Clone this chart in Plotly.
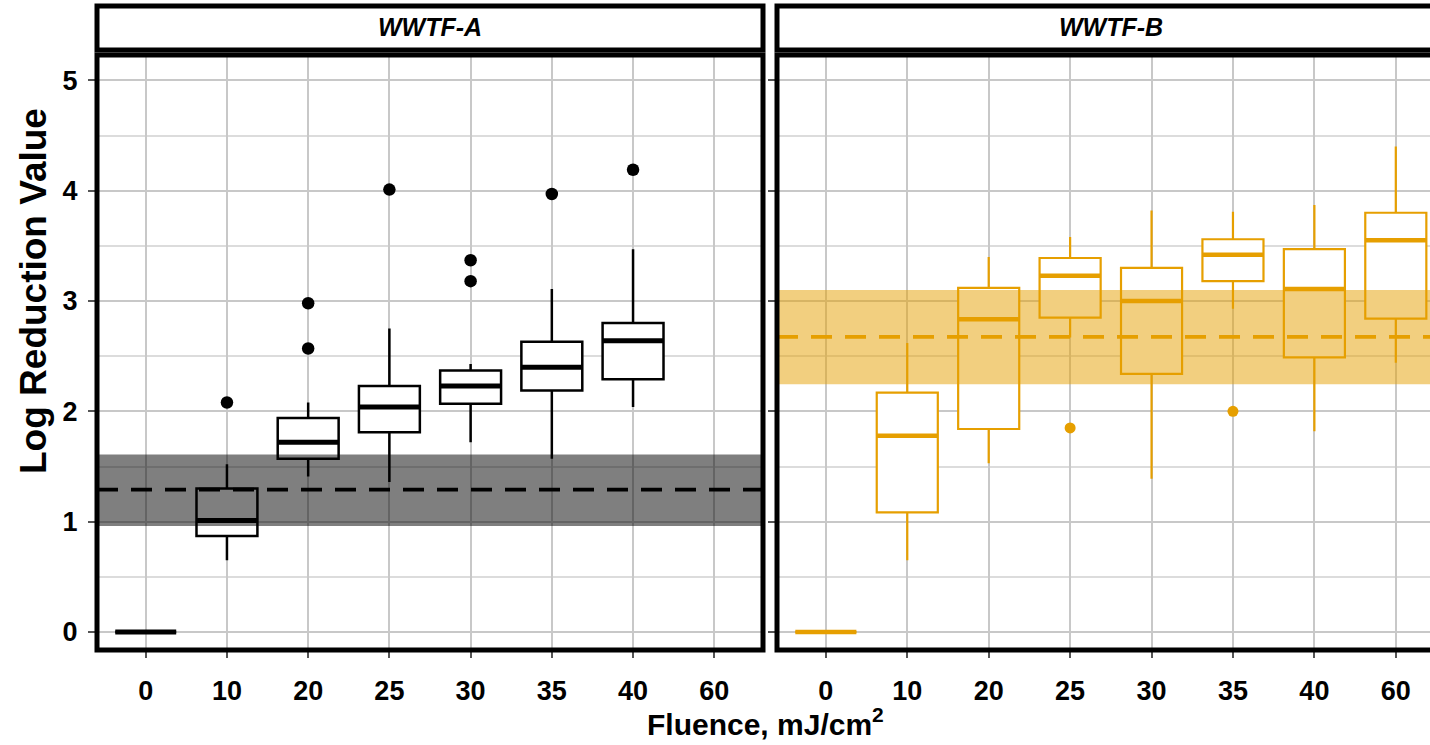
import plotly.graph_objects as go

categories = ["0", "10", "20", "25", "30", "35", "40", "60"]

# WWTF-A box statistics (no 60 mJ/cm2 data)
a_q1 = [0, 0.87, 1.57, 1.81, 2.07, 2.19, 2.29]
a_median = [0, 1.01, 1.72, 2.04, 2.23, 2.40, 2.64]
a_q3 = [0, 1.30, 1.94, 2.23, 2.37, 2.63, 2.80]
a_lower = [0, 0.65, 1.41, 1.36, 1.72, 1.57, 2.04]
a_upper = [0, 1.52, 2.08, 2.75, 2.43, 3.11, 3.47]
a_out_cat = [1, 2, 2, 3, 4, 4, 5, 6]
a_out_val = [2.08, 2.98, 2.57, 4.01, 3.37, 3.18, 3.97, 4.19]

# WWTF-B box statistics
b_q1 = [0, 1.085, 1.84, 2.85, 2.34, 3.18, 2.49, 2.84]
b_median = [0, 1.78, 2.835, 3.23, 3.00, 3.42, 3.11, 3.55]
b_q3 = [0, 2.17, 3.12, 3.39, 3.30, 3.56, 3.47, 3.80]
b_lower = [0, 0.65, 1.53, 2.67, 1.39, 2.93, 1.82, 2.44]
b_upper = [0, 2.62, 3.40, 3.58, 3.82, 3.81, 3.87, 4.40]
b_out_cat = [3, 5]
b_out_val = [1.85, 2.00]

# reference bands (mean and range)
a_band = {"lo": 0.96, "mean": 1.29, "hi": 1.61}
b_band = {"lo": 2.245, "mean": 2.675, "hi": 3.10}

A_XRANGE = [-0.6, 7.6]
B_XRANGE = [-0.6, 7.42]
Y_RANGE = [-0.163, 5.23]

BLACK = "#000000"
ORANGE = "#E69F00"
BOXW = 0.75
FONT = "Liberation Sans, Arial, sans-serif"

fig = go.Figure()


def add_facet(xa, ya, xr, band, band_fill, q1, med, q3, lo, hi, oc, ov, color, lw, mlw, msize):
    # shaded band
    fig.add_trace(go.Scatter(x=[xr[0], xr[1], xr[1], xr[0], xr[0]],
                             y=[band["lo"], band["lo"], band["hi"], band["hi"], band["lo"]],
                             mode="lines", fill="toself", fillcolor=band_fill,
                             line=dict(width=0), xaxis=xa, yaxis=ya,
                             showlegend=False, hoverinfo="skip"))
    pos = list(range(len(q1)))
    fig.add_trace(go.Box(
        x=pos, q1=q1, median=med, q3=q3, lowerfence=lo, upperfence=hi,
        width=BOXW, whiskerwidth=0, boxpoints=False,
        fillcolor="white", line=dict(color=color, width=lw),
        xaxis=xa, yaxis=ya, showlegend=False, hoverinfo="skip"))
    mx, my = [], []
    for i, m in zip(pos, med):
        mx += [i - BOXW / 2, i + BOXW / 2, None]
        my += [m, m, None]
    fig.add_trace(go.Scatter(x=mx, y=my, mode="lines",
                             line=dict(color=color, width=mlw),
                             xaxis=xa, yaxis=ya, showlegend=False, hoverinfo="skip"))
    fig.add_trace(go.Scatter(x=oc, y=ov, mode="markers",
                             marker=dict(color=color, size=msize),
                             xaxis=xa, yaxis=ya, showlegend=False, hoverinfo="skip"))
    # dashed mean line
    fig.add_trace(go.Scatter(x=[xr[0], xr[1]], y=[band["mean"], band["mean"]], mode="lines",
                             line=dict(color=color, width=3.8, dash="21px,13px"),
                             xaxis=xa, yaxis=ya, showlegend=False, hoverinfo="skip"))


add_facet("x", "y", A_XRANGE, a_band, "rgba(0,0,0,0.5)",
          a_q1, a_median, a_q3, a_lower, a_upper, a_out_cat, a_out_val,
          BLACK, 2.5, 5, 12.5)
add_facet("x2", "y2", B_XRANGE, b_band, "rgba(230,159,0,0.5)",
          b_q1, b_median, b_q3, b_lower, b_upper, b_out_cat, b_out_val,
          ORANGE, 2.2, 4.5, 11)

# geometry (page body margin is removed by post_script, so figure origin = screen origin)
W, H = 1430, 745
L, T = 97, 55
B = H - 650
R = 0
PW, PH = W - L - R, H - T - B


def px_x(p):  # screen px -> paper
    return (p - L) / PW


def px_y(p):
    return (H - B - p) / PH


a_dom = [0, px_x(763)]
b_dom = [px_x(777), 1]

# panel borders and strips
for x0, x1 in [(a_dom[0], a_dom[1]), (b_dom[0], 1.03)]:
    fig.add_shape(type="rect", xref="paper", yref="paper", x0=x0, x1=x1, y0=0, y1=1,
                  line=dict(color="black", width=5), fillcolor="rgba(0,0,0,0)", layer="above")
    fig.add_shape(type="rect", xref="paper", yref="paper", x0=x0, x1=x1,
                  y0=px_y(50), y1=px_y(6),
                  line=dict(color="black", width=5), fillcolor="white", layer="above")

for xr, label in [("x", "WWTF-A"), ("x2", "WWTF-B")]:
    fig.add_annotation(xref=xr, yref="paper", x=3.5, y=px_y(27), text=f"<b><i>{label}</i></b>",
                       xanchor="center", yanchor="middle",
                       showarrow=False, font=dict(family=FONT, size=25, color="black"))

fig.add_annotation(xref="paper", yref="paper", x=px_x(33), y=px_y(291),
                   text="<b>Log Reduction Value</b>", textangle=-90, showarrow=False,
                   xanchor="center", yanchor="middle",
                   font=dict(family=FONT, size=37, color="black"))
fig.add_annotation(xref="paper", yref="paper", x=px_x(765), y=px_y(722),
                   text="<b>Fluence, mJ/cm<sup>2</sup></b>", showarrow=False,
                   xanchor="center", yanchor="middle",
                   font=dict(family=FONT, size=30, color="black"))

tickfont = dict(family=FONT, size=27, color="black", weight="bold")
xcommon = dict(tickvals=list(range(len(categories))), ticktext=categories,
               showgrid=True, gridcolor="#C8C8C8", gridwidth=2, zeroline=False,
               showline=False, ticks="outside", ticklen=7, tickwidth=2, tickcolor="#555555",
               tickfont=tickfont, ticklabelstandoff=10)
ycommon = dict(range=Y_RANGE, tickvals=[0, 1, 2, 3, 4, 5],
               showgrid=True, gridcolor="#C8C8C8", gridwidth=2, zeroline=False,
               showline=False, ticks="outside", ticklen=8, tickwidth=2, tickcolor="#555555",
               tickfont=tickfont, ticklabelstandoff=5,
               minor=dict(dtick=0.5, tick0=0, showgrid=True, gridcolor="#DCDCDC", gridwidth=1.5))

fig.update_layout(
    width=W, height=H,
    margin=dict(l=L, r=R, t=T, b=B, autoexpand=False),
    paper_bgcolor="white", plot_bgcolor="white",
    showlegend=False,
    xaxis=dict(domain=a_dom, range=A_XRANGE, **xcommon),
    xaxis2=dict(domain=b_dom, range=B_XRANGE, anchor="y2", **xcommon),
    yaxis=dict(domain=[0, 1], **ycommon),
    yaxis2=dict(domain=[0, 1], anchor="x2", matches="y", showticklabels=False,
                **{k: v for k, v in ycommon.items() if k not in ("range", "ticklabelstandoff")}),
)

fig.write_html("out.html", config={"displayModeBar": False},
               post_script="document.body.style.margin='0';")
